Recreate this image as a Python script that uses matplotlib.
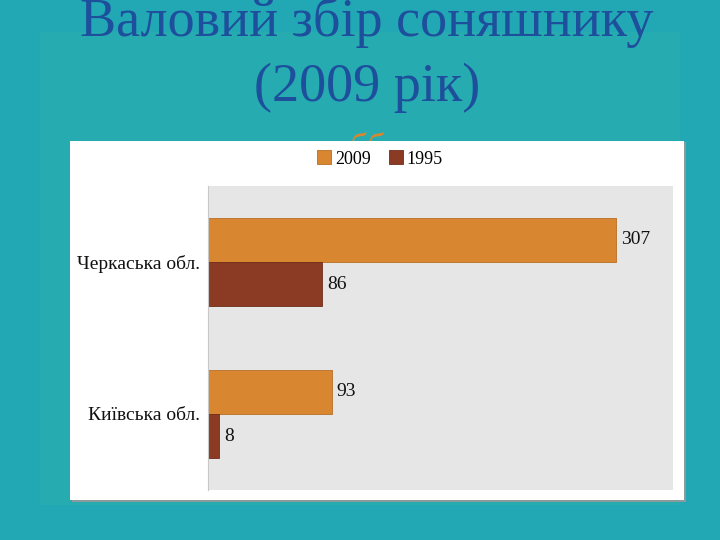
import numpy as np
import matplotlib.pyplot as plt
from matplotlib.patches import Rectangle

# data
regions = ["Київська обл.", "Черкаська обл."]
values_2009 = [93, 307]
values_1995 = [8, 86]
series_names = ["2009", "1995"]

TITLE = "Валовий збір соняшнику\n(2009 рік)"
BG_OUTER = "#22a8b4"
BG_INNER = "#26abb0"
TITLE_COLOR = "#1d4f9c"
ORANGE = "#d88630"
BROWN = "#8b3a24"
PLOT_BG = "#e6e6e6"
FONT = ["Liberation Serif", "DejaVu Serif"]

plt.rcParams["font.family"] = FONT

fig = plt.figure(figsize=(7.2, 5.4), dpi=100, facecolor=BG_OUTER)

# slide background blocks
fig.patches.append(Rectangle((40 / 720, 35 / 540), 640 / 720, 473 / 540,
                             transform=fig.transFigure, facecolor=BG_INNER,
                             edgecolor="none", zorder=0))
# half hidden orange text behind the white panel
fig.text(0.51, 1 - 133 / 540, "бб", color=ORANGE, fontsize=26, ha="center",
         va="top", zorder=0.5)
# shadow and white panel
fig.patches.append(Rectangle((72 / 720, 38 / 540), 614 / 720, 360 / 540,
                             transform=fig.transFigure, facecolor="#8c9a9c",
                             edgecolor="none", zorder=1))
fig.patches.append(Rectangle((70 / 720, 40 / 540), 614 / 720, 359 / 540,
                             transform=fig.transFigure, facecolor="white",
                             edgecolor="none", zorder=1))

fig.text(0.51, 1.0 + 4 / 540, TITLE, color=TITLE_COLOR, fontsize=39,
         ha="center", va="top", linespacing=1.38)

ax = fig.add_axes([208 / 720, 50 / 540, 465 / 720, 304 / 540])
ax.set_zorder(2)
ax.set_facecolor(PLOT_BG)

y = np.arange(len(regions))
h = 0.29
b1 = ax.barh(y + h / 2, values_2009, height=h, color=ORANGE,
             edgecolor="#b86e25", linewidth=0.6, label=series_names[0])
b2 = ax.barh(y - h / 2, values_1995, height=h, color=BROWN,
             edgecolor="#6e2c1a", linewidth=0.6, label=series_names[1])

for bars in (b1, b2):
    for rect in bars:
        w = rect.get_width()
        ax.text(w + 4, rect.get_y() + rect.get_height() / 2, str(int(w)),
                va="center", ha="left", fontsize=14, color="#111111")

ax.set_xlim(0, 350)
ax.set_ylim(-0.5, 1.5)
ax.set_xticks([])
ax.set_yticks(y)
ax.set_yticklabels(regions, fontsize=14, color="#111111")
ax.tick_params(axis="y", length=0, pad=6)
for s in ["top", "right", "bottom"]:
    ax.spines[s].set_visible(False)
ax.spines["left"].set_color("#c8c8c8")

leg = fig.legend(handles=[b1, b2], labels=series_names, loc="center",
                 bbox_to_anchor=(380 / 720, 1 - 159 / 540), ncol=2,
                 frameon=False, fontsize=13, handlelength=0.8,
                 handleheight=0.8, handletextpad=0.2, columnspacing=1.0)
leg.set_zorder(3)

fig.savefig("out.png", dpi=100, facecolor=fig.get_facecolor())
